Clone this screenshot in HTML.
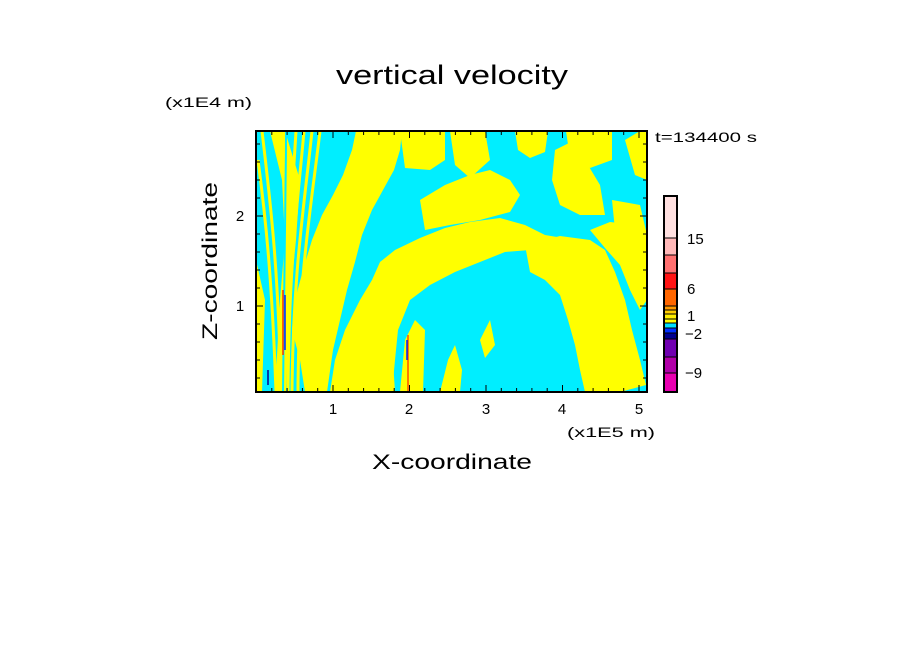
<!DOCTYPE html>
<html><head><meta charset="utf-8"><style>
html,body{margin:0;padding:0;background:#fff;}
svg{display:block;font-family:"Liberation Sans",sans-serif;}
</style></head><body>
<svg width="904" height="654" viewBox="0 0 904 654" xmlns="http://www.w3.org/2000/svg">
<rect width="904" height="654" fill="#fff"/>
<text x="336" y="84" font-size="27" fill="#000" textLength="232" lengthAdjust="spacingAndGlyphs">vertical velocity</text>
<text x="165" y="107" font-size="14" fill="#000" textLength="87" lengthAdjust="spacingAndGlyphs">(x1E4 m)</text>
<text x="655" y="142" font-size="14" fill="#000" textLength="102" lengthAdjust="spacingAndGlyphs">t=134400 s</text>
<defs><clipPath id="c"><rect x="256" y="131" width="391" height="261"/></clipPath></defs>
<g clip-path="url(#c)">
<rect x="256" y="131" width="391" height="261" fill="#00eeff"/>
<g fill="#ffff00">
<path d="M305,392 L300,360 L292,330 L295,300 L303,270 L312,240 L322,215 L333,195 L343,175 L352,150 L356,131 L402,131 L400,150 L394,170 L383,190 L372,210 L362,235 L355,262 L347,290 L340,320 L333,350 L327,392 Z"/>
<path d="M330,392 L335,360 L345,330 L360,300 L372,280 L380,262 L395,250 L420,238 L445,228 L470,222 L500,218 L525,225 L545,235 L575,240 L590,248 L585,262 L560,262 L530,250 L505,252 L480,262 L455,272 L430,285 L410,300 L398,330 L395,360 L392,392 Z"/>
<path d="M400,131 L445,131 L445,160 L430,170 L405,168 Z"/>
<path d="M450,131 L485,131 L490,160 L470,178 L455,165 Z"/>
<path d="M515,131 L548,131 L545,152 L530,158 L518,150 Z"/>
<path d="M555,150 L575,140 L585,160 L600,185 L605,215 L580,215 L560,205 L552,180 Z"/>
<path d="M566,131 L612,131 L612,160 L590,168 L570,158 Z"/>
<path d="M612,200 L640,205 L647,235 L647,260 L630,248 L615,230 Z"/>
<path d="M420,200 L445,185 L470,175 L490,170 L510,180 L520,195 L510,212 L480,220 L450,225 L425,230 Z"/>
<path d="M525,245 L560,236 L590,240 L605,250 L615,272 L625,300 L632,330 L640,360 L646,385 L620,392 L585,392 L580,370 L575,345 L568,320 L560,295 L545,280 L530,272 Z"/>
<path d="M590,230 L610,222 L635,225 L647,240 L647,300 L640,310 L630,290 L620,265 L605,248 Z"/>
<path d="M372,392 L375,350 L382,335 L392,345 L395,392 Z"/>
<path d="M400,392 L405,340 L415,320 L425,330 L423,392 Z"/>
<path d="M270,131 L285,131 L300,180 L296,240 L290,300 L286,392 L275,392 L280,300 L285,240 L282,180 Z"/>
<path d="M440,392 L448,360 L455,345 L462,370 L460,392 Z"/>
<path d="M480,340 L490,320 L495,345 L485,358 Z"/>
<path d="M625,140 L640,131 L647,131 L647,180 L635,175 Z"/>
<path d="M256,260 L265,300 L262,392 L256,392 Z"/>
</g>
<g fill="none" stroke="#ffff00" stroke-width="3">
<path d="M262,131 C270,200 278,260 281,392"/>
<path d="M296,131 C292,200 286,260 284,392"/>
<path d="M304,131 C298,200 289,260 288,392"/>
<path d="M312,131 C305,200 293,270 292,392"/>
<path d="M320,131 C312,200 298,280 298,392"/>
<path d="M258,160 C266,220 272,280 276,392"/>
</g>
<g fill="none" stroke="#00eeff" stroke-width="2">
<path d="M286,131 C286,200 284,260 283,392"/>
</g>
<g stroke-width="1.5">
<line x1="283" y1="290" x2="283" y2="355" stroke="#ff3000"/>
<line x1="285" y1="295" x2="285" y2="350" stroke="#0020ff"/>
<line x1="408" y1="335" x2="408" y2="392" stroke="#ff5000"/>
<line x1="407" y1="340" x2="407" y2="360" stroke="#0020ff"/>
<line x1="268" y1="370" x2="268" y2="385" stroke="#000090"/>
</g>
</g>
<rect x="256" y="131" width="391" height="261" fill="none" stroke="#000" stroke-width="2"/>
<g stroke="#000" stroke-width="1">
<path d="M271.8,392v-4M287.1,392v-4M302.4,392v-4M317.7,392v-4M333,392v-7M348.3,392v-4M363.6,392v-4M378.9,392v-4M394.2,392v-4M409.5,392v-7M424.8,392v-4M440.1,392v-4M455.4,392v-4M470.7,392v-4M486,392v-7M501.3,392v-4M516.6,392v-4M531.9,392v-4M547.2,392v-4M562.5,392v-7M577.8,392v-4M593.1,392v-4M608.4,392v-4M623.7,392v-4M639,392v-7"/>
<path d="M271.8,131v4M287.1,131v4M302.4,131v4M317.7,131v4M333,131v7M348.3,131v4M363.6,131v4M378.9,131v4M394.2,131v4M409.5,131v7M424.8,131v4M440.1,131v4M455.4,131v4M470.7,131v4M486,131v7M501.3,131v4M516.6,131v4M531.9,131v4M547.2,131v4M562.5,131v7M577.8,131v4M593.1,131v4M608.4,131v4M623.7,131v4M639,131v7"/>
<path d="M256,378h4M256,360h4M256,342h4M256,324h4M256,306h7M256,288h4M256,270h4M256,252h4M256,234h4M256,216h7M256,198h4M256,180h4M256,162h4M256,144h4"/>
<path d="M647,378h-4M647,360h-4M647,342h-4M647,324h-4M647,306h-7M647,288h-4M647,270h-4M647,252h-4M647,234h-4M647,216h-7M647,198h-4M647,180h-4M647,162h-4M647,144h-4"/>
</g>
<g font-size="15" fill="#000" text-anchor="middle">
<text x="333" y="414">1</text><text x="409" y="414">2</text><text x="486" y="414">3</text><text x="562" y="414">4</text><text x="639" y="414">5</text>
<text x="240" y="311">1</text><text x="240" y="221">2</text>
</g>
<text x="567" y="437" font-size="14" fill="#000" textLength="88" lengthAdjust="spacingAndGlyphs">(x1E5 m)</text>
<text x="372" y="469" font-size="21" fill="#000" textLength="160" lengthAdjust="spacingAndGlyphs">X-coordinate</text>
<text transform="translate(217,340) rotate(-90)" font-size="21" fill="#000" textLength="158" lengthAdjust="spacingAndGlyphs">Z-coordinate</text>
<g>
<rect x="664" y="196" width="13" height="42" fill="#ffe0e0"/>
<rect x="664" y="238" width="13" height="17" fill="#ffb8b8"/>
<rect x="664" y="255" width="13" height="18" fill="#ff7070"/>
<rect x="664" y="273" width="13" height="16" fill="#ff1414"/>
<rect x="664" y="289" width="13" height="17" fill="#ff6600"/>
<rect x="664" y="306" width="13" height="4" fill="#ff9900"/>
<rect x="664" y="310" width="13" height="4" fill="#ffcc00"/>
<rect x="664" y="314" width="13" height="5" fill="#ffee00"/>
<rect x="664" y="319" width="13" height="4" fill="#ffff00"/>
<rect x="664" y="323" width="13" height="5" fill="#00e0ff"/>
<rect x="664" y="328" width="13" height="5" fill="#0030ff"/>
<rect x="664" y="333" width="13" height="6" fill="#000090"/>
<rect x="664" y="339" width="13" height="18" fill="#7000b0"/>
<rect x="664" y="357" width="13" height="16" fill="#b000a8"/>
<rect x="664" y="373" width="13" height="19" fill="#e800b0"/>
<g stroke="#000" stroke-width="1">
<path d="M664,238h13M664,255h13M664,273h13M664,289h13M664,306h13M664,310h13M664,314h13M664,319h13M664,323h13M664,328h13M664,333h13M664,339h13M664,357h13M664,373h13"/>
</g>
<rect x="664" y="196" width="13" height="196" fill="none" stroke="#000" stroke-width="2"/>
</g>
<g font-size="15" fill="#000">
<text x="687" y="244">15</text>
<text x="687" y="294">6</text>
<text x="687" y="321">1</text>
<text x="685" y="339">−2</text>
<text x="685" y="378">−9</text>
</g>
</svg>
</body></html>
